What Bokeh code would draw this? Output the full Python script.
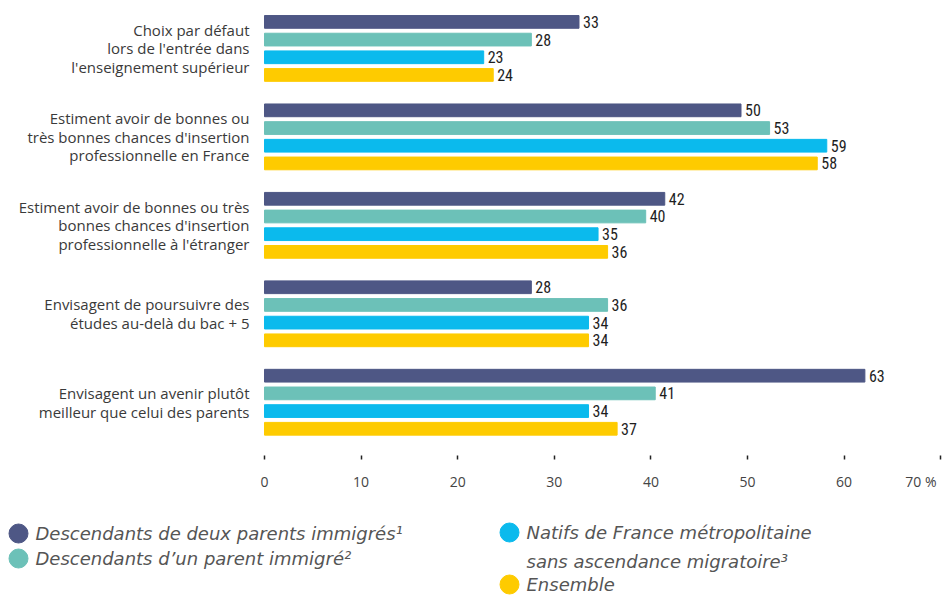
from bokeh.plotting import figure
from bokeh.models import ColumnDataSource, Range1d, FixedTicker, LinearAxis
from bokeh.core.properties import value
from bokeh.embed import file_html
from bokeh.resources import INLINE

categories = [
    "Choix par défaut\nlors de l'entrée dans\nl'enseignement supérieur",
    "Estiment avoir de bonnes ou\ntrès bonnes chances d'insertion\nprofessionnelle en France",
    "Estiment avoir de bonnes ou très\nbonnes chances d'insertion\nprofessionnelle à l'étranger",
    "Envisagent de poursuivre des\nétudes au-delà du bac + 5",
    "Envisagent un avenir plutôt\nmeilleur que celui des parents",
]
series_names = [
    "Descendants de deux parents immigrés¹",
    "Descendants d’un parent immigré²",
    "Natifs de France métropolitaine\nsans ascendance migratoire³",
    "Ensemble",
]
deux_parents = [33, 50, 42, 28, 63]
un_parent = [28, 53, 40, 36, 41]
natifs = [23, 59, 35, 34, 34]
ensemble = [24, 58, 36, 34, 37]
series_values = [deux_parents, un_parent, natifs, ensemble]
colors = ["#4E5785", "#6CC1B8", "#0BBAED", "#FECB00"]
x_ticks = [0, 10, 20, 30, 40, 50, 60, 70]
unit_label = "%"

# ---- layout constants (pixels) ----
W, H = 944, 595
X0 = 264            # pixel of value 0
PX_BAR = 9.53       # px per unit for bars
PX_AXIS = 9.66      # px per unit for axis ticks
Y0 = 21.4           # pixel centre of first bar row
PX_ROW = 17.69      # px per bar row
AXIS_Y = 455        # pixel of tick start

n_series = len(series_values)
group_step = n_series + 1

def yrow(py):
    return (py - Y0) / PX_ROW

def xval(px):
    return (px - X0) / PX_BAR

CAT_FONT = "Open Sans"
NUM_FONT = "'Roboto Condensed', 'DejaVu Sans Condensed', Roboto"
LEG_FONT = "DejaVu Sans"

p = figure(width=W, height=H, output_backend="svg", toolbar_location=None,
           x_range=Range1d(xval(0), xval(W)),
           y_range=Range1d(yrow(H), yrow(0)),
           y_axis_type=None,
           min_border_left=0, min_border_right=0, min_border_top=0,
           min_border_bottom=0)
p.extra_x_ranges = {"axis": Range1d(-X0 / PX_AXIS, (W - X0) / PX_AXIS)}
p.outline_line_color = None
p.grid.grid_line_color = None
p.xgrid.visible = False

for s, vals in enumerate(series_values):
    ys = [g * group_step + s for g in range(len(vals))]
    src = ColumnDataSource(dict(y=ys, v=vals, lab=[str(v) for v in vals]))
    p.hbar(y="y", left=0, right="v", height=0.72, color=colors[s], source=src)
    p.text(x="v", y="y", text="lab", source=src, x_offset=4,
           text_baseline="middle", text_align="left",
           text_font=value(NUM_FONT), text_font_size="16px", text_color="#1e1e1e")

# category labels
centers = [g * group_step + (n_series - 1) / 2 for g in range(len(categories))]
p.text(x=[0] * len(categories), y=centers, text=categories, x_offset=-15,
       text_align="right", text_baseline="middle", text_line_height=0.93,
       text_font=value(CAT_FONT), text_font_size="15px", text_color="#3a3a3a")

# x axis (fixed inside the canvas); last label carries the unit and is
# padded on the right with an invisible figure space so it ends at its tick
p.xaxis.visible = False
xa = LinearAxis(x_range_name="axis")
xa.fixed_location = yrow(AXIS_Y)
xa.ticker = FixedTicker(ticks=x_ticks)
xa.major_label_overrides = {x_ticks[-1]: f"{x_ticks[-1]}\u00a0{unit_label}\u2007"}
xa.axis_line_color = None
xa.major_tick_in = 0
xa.major_tick_out = 4
xa.major_tick_line_color = "#222222"
xa.major_tick_line_width = 1.5
xa.minor_tick_line_color = None
xa.major_label_standoff = 12
xa.major_label_text_font = CAT_FONT
xa.major_label_text_font_size = "14px"
xa.major_label_text_color = "#444444"
p.add_layout(xa, "below")

# legend
leg_marker_x = [18, 18, 509, 509]
leg_row_y = [533, 558, 532, 584]
line_gap = 29
mx, my, tx, ty, tt = [], [], [], [], []
for i, name in enumerate(series_names):
    mx.append(xval(leg_marker_x[i])); my.append(yrow(leg_row_y[i]))
    for k, line in enumerate(name.split("\n")):
        tx.append(xval(leg_marker_x[i] + 17))
        ty.append(yrow(leg_row_y[i] + k * line_gap))
        tt.append(line)
p.scatter(x=mx, y=my, size=19, color=colors, marker="circle")
p.text(x=tx, y=ty, text=tt, text_baseline="middle", text_align="left",
       text_font=value(LEG_FONT), text_font_style="italic", text_font_size="18px",
       text_color="#555555")

open("out.html", "w").write(file_html(p, INLINE))
